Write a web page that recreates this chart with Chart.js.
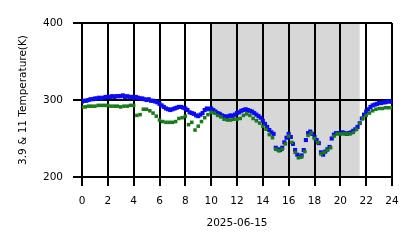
<!DOCTYPE html>
<html>
<head>
<meta charset="utf-8">
<script src="https://cdn.jsdelivr.net/npm/chart.js@4.4.1/dist/chart.umd.min.js"></script>
<style>
    html, body { margin: 0; padding: 0; background: white; }
    canvas { display: block; }
</style>
</head>
<body>
<canvas id="chart" width="418" height="248"></canvas>
<script>
// 3.9 micron channel, sampled every 10 minutes (K)
const blueTemps = [
    298, 299, 299, 300, 301, 301,
    302, 302, 303, 302, 303, 304,
    304, 304, 305, 304, 305, 305,
    305, 306, 304, 305, 304, 304,
    303, 304, 303, 302, 302, 301,
    300, 301, 299, 299, 298, 297,
    295, 293, 291, 289, 288, 287,
    288, 289, 290, 291, 291, 290,
    289, 287, 284, 283, 282, 280,
    279, 281, 283, 287, 289, 288,
    289, 287, 285, 283, 282, 280,
    279, 278, 279, 280, 279, 281,
    283, 284, 286, 287, 288, 287,
    286, 285, 283, 281, 279, 277,
    273, 269, 265, 261, 258, 256,
    238, 236, 235, 238, 245, 251,
    256, 252, 243, 235, 229, 226,
    228, 235, 248, 257, 259, 256,
    252, 248, 244, 232, 229, 233,
    236, 239, 250, 255, 257, 257,
    257, 258, 257, 256, 257, 258,
    260, 262, 265, 270, 276, 281,
    285, 288, 291, 293, 294, 295,
    296, 296, 297, 297, 298, 298,
    298
];

// 11 micron channel, sampled every 15 minutes (K)
const greenTemps = [
    291, 291, 292, 292,
    292, 293, 293, 293,
    293, 292, 292, 292,
    291, 292, 292, 293,
    293, 280, 281, 288,
    288, 286, 283, 279,
    274, 272, 271, 271,
    271, 272, 276, 277,
    279, 268, 271, 261,
    266, 272, 277, 281,
    284, 283, 280, 278,
    275, 274, 274, 275,
    275, 276, 280, 282,
    280, 276, 273, 270,
    266, 262, 255, 251,
    236, 234, 236, 243,
    253, 245, 232, 225,
    226, 233, 254, 257,
    250, 245, 230, 232,
    235, 238, 253, 256,
    256, 256, 256, 256,
    258, 262, 270, 276,
    280, 283, 286, 288,
    289, 289, 290, 290,
    290
];

const BLUE_STEP = 10 / 60;
const GREEN_STEP = 15 / 60;

const xTicks = [0, 2, 4, 6, 8, 10, 12, 14, 16, 18, 20, 22, 24];
const yTicks = [200, 300, 400];
const dateLabel = '2025-06-15';
const yLabel = '3.9 & 11 Temperature(K)';

// night period (hours)
const shadeStart = 9.95;
const shadeEnd = 21.5;

const FONT = { family: 'DejaVu Sans', size: 10.5 };

const shadePlugin = {
    id: 'shade',
    beforeDraw(chart) {
        const { ctx, chartArea, scales } = chart;
        const x0 = scales.x.getPixelForValue(shadeStart);
        const x1 = scales.x.getPixelForValue(shadeEnd);
        ctx.save();
        ctx.fillStyle = '#d7d7d7';
        ctx.fillRect(x0, chartArea.top, x1 - x0, chartArea.bottom - chartArea.top);
        ctx.restore();
    }
};

const toPoints = (temps, step) => temps.map((t, i) => ({ x: i * step, y: t }));

const axisCommon = {
    ticks: { color: 'black', font: FONT },
    grid: { color: 'black', lineWidth: 2, tickLength: 9, drawTicks: true },
    border: { color: 'black', width: 2 }
};

new Chart(document.getElementById('chart').getContext('2d'), {
    type: 'scatter',
    data: {
        datasets: [
            {
                label: '11',
                data: toPoints(greenTemps, GREEN_STEP),
                pointStyle: 'rect',
                pointRadius: 2.5,
                borderWidth: 0,
                backgroundColor: '#187a18'
            },
            {
                label: '3.9',
                data: toPoints(blueTemps, BLUE_STEP),
                pointStyle: 'rect',
                pointRadius: 2.9,
                borderWidth: 0,
                backgroundColor: '#0a0af5'
            }
        ]
    },
    options: {
        responsive: false,
        animation: false,
        events: [],
        layout: { padding: { top: 23, right: 26, left: 0, bottom: 0 } },
        plugins: {
            legend: { display: false },
            tooltip: { enabled: false }
        },
        scales: {
            x: {
                type: 'linear',
                min: 0,
                max: 24,
                afterBuildTicks: (s) => { s.ticks = xTicks.map((v) => ({ value: v })); },
                afterFit: (s) => { s.height = 71; },
                ticks: { ...axisCommon.ticks, padding: 9, maxRotation: 0, autoSkip: false },
                grid: axisCommon.grid,
                border: axisCommon.border,
                title: {
                    display: true,
                    text: dateLabel,
                    color: 'black',
                    font: FONT,
                    padding: { top: 0, bottom: 18.6 }
                }
            },
            y: {
                type: 'linear',
                min: 200,
                max: 400,
                afterBuildTicks: (s) => { s.ticks = yTicks.map((v) => ({ value: v })); },
                afterFit: (s) => { s.width = 82; },
                ticks: { ...axisCommon.ticks, padding: 10 },
                grid: axisCommon.grid,
                border: axisCommon.border,
                title: {
                    display: true,
                    text: yLabel,
                    color: 'black',
                    font: FONT,
                    padding: { top: 16.6, bottom: 0 }
                }
            }
        }
    },
    plugins: [shadePlugin]
});
</script>
</body>
</html>
